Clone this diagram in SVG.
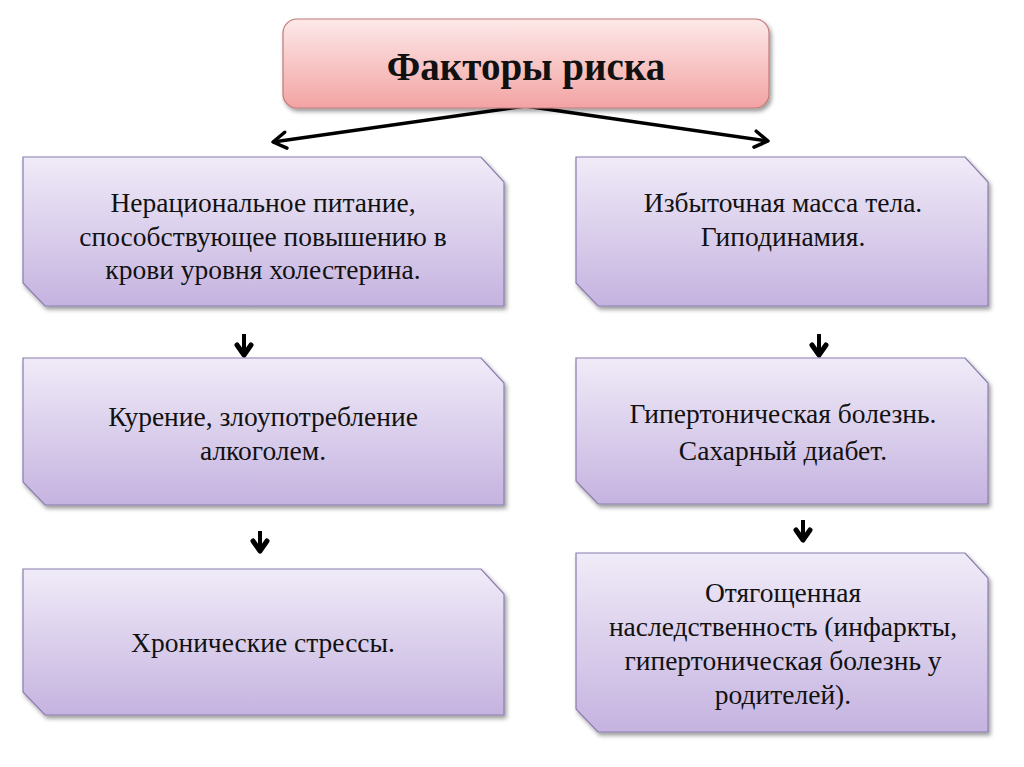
<svg xmlns="http://www.w3.org/2000/svg" width="1024" height="767" viewBox="0 0 1024 767">
<defs>
<linearGradient id="gPink" x1="0" y1="0" x2="0" y2="1">
<stop offset="0" stop-color="#fde9e9"/>
<stop offset="1" stop-color="#f3a3a3"/>
</linearGradient>
<linearGradient id="gLav" x1="0" y1="0" x2="0" y2="1">
<stop offset="0" stop-color="#f0ebf8"/>
<stop offset="1" stop-color="#c5b3e0"/>
</linearGradient>
<filter id="sh" x="-5%" y="-5%" width="115%" height="125%">
<feDropShadow dx="2" dy="3" stdDeviation="2" flood-color="#000" flood-opacity="0.4"/>
</filter>
<marker id="ah" markerUnits="userSpaceOnUse" markerWidth="30" markerHeight="30" viewBox="-15 -15 30 30" refX="0" refY="0" orient="auto">
<path d="M -13,-8 L 0,0 L -13,8" fill="none" stroke="#000" stroke-width="3.5" stroke-linecap="round" stroke-linejoin="round"/>
</marker>
<marker id="ahs" markerUnits="userSpaceOnUse" markerWidth="30" markerHeight="30" viewBox="-15 -15 30 30" refX="0" refY="0" orient="auto">
<path d="M -10,-7 L 0,0 L -10,7" fill="none" stroke="#000" stroke-width="5" stroke-linecap="round" stroke-linejoin="round"/>
</marker>
</defs>
<style>
.box{fill:url(#gLav);stroke:#8a7cae;stroke-width:1.2;filter:url(#sh)}
.title{fill:url(#gPink);stroke:#c27a7a;stroke-width:1.2;filter:url(#sh)}
.t{font-family:"Liberation Serif",serif;font-size:27.5px;fill:#111;text-anchor:middle}
.tt{font-family:"Liberation Serif",serif;font-size:39px;font-weight:bold;fill:#111;text-anchor:middle}
.c{stroke:#000;stroke-width:3.5;fill:none}
.cs{stroke:#000;stroke-width:4;fill:none}
</style>
<rect width="1024" height="767" fill="#ffffff"/>

<g id="connectors">
<line class="c" x1="525" y1="106" x2="273" y2="142" marker-end="url(#ah)"/>
<line class="c" x1="525" y1="106" x2="768" y2="141" marker-end="url(#ah)"/>
<line class="cs" x1="244" y1="334" x2="244" y2="355" marker-end="url(#ahs)"/>
<line class="cs" x1="260" y1="531" x2="260" y2="551" marker-end="url(#ahs)"/>
<line class="cs" x1="819" y1="334" x2="819" y2="355" marker-end="url(#ahs)"/>
<line class="cs" x1="803" y1="520" x2="803" y2="540" marker-end="url(#ahs)"/>
</g>

<g id="title">
<rect class="title" x="283" y="19" width="486" height="89" rx="14" ry="14"/>
<text class="tt" x="526" y="80">Факторы риска</text>
</g>

<g id="left1">
<path class="box" d="M23,157 H481 L504,182 V306 H45 L23,283 Z"/>
<text class="t" x="263" y="212">Нерациональное питание,</text>
<text class="t" x="263" y="246">способствующее повышению в</text>
<text class="t" x="263" y="279">крови уровня холестерина.</text>
</g>

<g id="left2">
<path class="box" d="M23,358 H481 L504,383 V505 H45 L23,482 Z"/>
<text class="t" x="263" y="426">Курение, злоупотребление</text>
<text class="t" x="263" y="460">алкоголем.</text>
</g>

<g id="left3">
<path class="box" d="M23,569 H481 L504,594 V715 H45 L23,692 Z"/>
<text class="t" x="263" y="652">Хронические стрессы.</text>
</g>

<g id="right1">
<path class="box" d="M576,157 H965 L988,182 V306 H598 L576,283 Z"/>
<text class="t" x="783" y="212">Избыточная масса тела.</text>
<text class="t" x="783" y="246">Гиподинамия.</text>
</g>

<g id="right2">
<path class="box" d="M576,358 H965 L988,383 V504 H598 L576,481 Z"/>
<text class="t" x="783" y="423">Гипертоническая болезнь.</text>
<text class="t" x="783" y="460">Сахарный диабет.</text>
</g>

<g id="right3">
<path class="box" d="M576,553 H965 L988,578 V732 H598 L576,709 Z"/>
<text class="t" x="783" y="602">Отягощенная</text>
<text class="t" x="783" y="636">наследственность (инфаркты,</text>
<text class="t" x="783" y="670">гипертоническая болезнь у</text>
<text class="t" x="783" y="704">родителей).</text>
</g>
</svg>
